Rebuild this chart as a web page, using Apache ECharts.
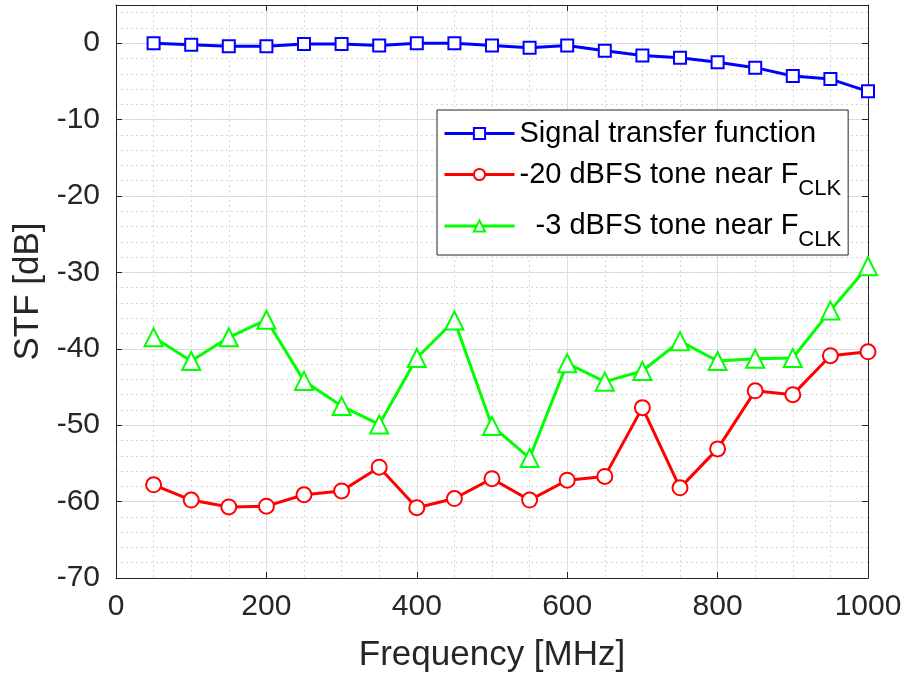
<!DOCTYPE html>
<html>
<head>
<meta charset="utf-8">
<script src="https://cdn.jsdelivr.net/npm/echarts@6/dist/echarts.min.js"></script>
<style>
  html, body { margin: 0; padding: 0; background: #fff; }
  #main { width: 907px; height: 681px; }
</style>
</head>
<body>
<div id="main"></div>
<script>
// frequencies in MHz
var freqs = [50, 100, 150, 200, 250, 300, 350, 400, 450, 500,
             550, 600, 650, 700, 750, 800, 850, 900, 950, 1000];
// signal transfer function
var stf = [0, -0.2, -0.4, -0.4, -0.1, -0.1, -0.3, 0, 0, -0.3,
           -0.6, -0.3, -1.0, -1.6, -1.9, -2.5, -3.2, -4.3, -4.7, -6.3];
// -20 dBFS tone near Fclk
var tone20 = [-57.8, -59.8, -60.7, -60.6, -59.1, -58.6, -55.5, -60.8, -59.6, -57.0,
              -59.8, -57.2, -56.7, -47.7, -58.2, -53.1, -45.5, -46.0, -40.9, -40.4];
// -3 dBFS tone near Fclk
var tone3 = [-38.5, -41.6, -38.5, -36.2, -44.2, -47.5, -49.9, -41.2, -36.3, -50.1,
             -54.3, -41.9, -44.3, -42.9, -39.0, -41.6, -41.3, -41.2, -35.0, -29.2];
var xTicks = [0, 200, 400, 600, 800, 1000];
var yTicks = [-70, -60, -50, -40, -30, -20, -10, 0];

var names = ['Signal transfer function', '-20 dBFS tone near F', '  -3 dBFS tone near F'];

function pairs(ys) {
    return freqs.map(function (f, i) { return [f, ys[i]]; });
}

var font = 'Liberation Sans, Arial, Helvetica, sans-serif';
var axisColor = '#262626';

var chart = echarts.init(document.getElementById('main'));
var option = {
    backgroundColor: '#fff',
    animation: false,
    textStyle: { fontFamily: font },
    grid: { left: 116, right: 39, top: 5, bottom: 103, outerBoundsMode: 'none' },
    legend: {
        orient: 'vertical',
        left: 437,
        top: 110,
        padding: [9, 7, 4, 6],
        itemGap: 12,
        itemWidth: 70,
        itemHeight: 14,
        backgroundColor: '#fff',
        borderColor: axisColor,
        borderWidth: 1,
        borderRadius: 0,
        lineStyle: { width: 3 },
        data: names,
        formatter: function (n) {
            if (n === names[0]) return '{u|' + n + '}';
            return '{t|' + n + '}{s|CLK}';
        },
        textStyle: {
            fontFamily: font,
            color: '#000',
            rich: {
                u: { fontSize: 29, fontFamily: font, color: '#000', padding: [3, 0, 3, 0] },
                t: { fontSize: 29, fontFamily: font, color: '#000' },
                s: { fontSize: 22, fontFamily: font, color: '#000', padding: [28, 0, 0, 0] }
            }
        }
    },
    xAxis: [{
        type: 'value',
        min: 0, max: 1000, interval: 200,
        position: 'bottom',
        name: 'Frequency [MHz]',
        nameLocation: 'middle',
        nameGap: 60,
        nameTextStyle: { fontSize: 35, color: axisColor, fontFamily: font },
        axisLine: { show: true, onZero: false, lineStyle: { color: axisColor, width: 1 } },
        axisTick: { show: true, inside: true, length: 6, lineStyle: { color: axisColor } },
        axisLabel: {
            fontSize: 30, color: axisColor, margin: 14, fontFamily: font,
            formatter: function (v) { return xTicks.indexOf(v) >= 0 ? String(v) : ''; }
        },
        splitLine: { show: true, lineStyle: { color: '#dfdfdf', width: 1 } },
        minorTick: { show: false, splitNumber: 4 },
        minorSplitLine: { show: true, lineStyle: { color: '#d6d6d6', type: [2, 3], width: 1 } }
    }, {
        type: 'value',
        min: 0, max: 1000, interval: 200,
        position: 'top',
        axisLine: { show: true, onZero: false, lineStyle: { color: axisColor, width: 1 } },
        axisTick: { show: true, inside: true, length: 6, lineStyle: { color: axisColor } },
        axisLabel: { show: false },
        splitLine: { show: false }
    }],
    yAxis: [{
        type: 'value',
        min: -70, max: 5, interval: 10,
        position: 'left',
        name: 'STF [dB]',
        nameLocation: 'middle',
        nameGap: 70,
        nameTextStyle: { fontSize: 35, color: axisColor, fontFamily: font },
        axisLine: { show: true, onZero: false, lineStyle: { color: axisColor, width: 1 } },
        axisTick: { show: true, inside: true, length: 6, lineStyle: { color: axisColor } },
        axisLabel: {
            fontSize: 30, color: axisColor, margin: 16, fontFamily: font,
            formatter: function (v) { return yTicks.indexOf(v) >= 0 ? String(v) : ''; }
        },
        splitLine: { show: true, lineStyle: { color: '#dfdfdf', width: 1 } }
    }, {
        type: 'value',
        min: -70, max: 5, interval: 10,
        position: 'right',
        axisLine: { show: true, onZero: false, lineStyle: { color: axisColor, width: 1 } },
        axisTick: { show: true, inside: true, length: 6, lineStyle: { color: axisColor } },
        axisLabel: { show: false },
        splitLine: { show: false }
    }, {
        // minor grid
        type: 'value',
        min: -70, max: 5, interval: 2,
        position: 'left',
        axisLine: { show: false },
        axisTick: { show: false },
        axisLabel: { show: false },
        splitLine: { show: true, lineStyle: { color: '#d6d6d6', type: [2, 3], width: 1 } }
    }],
    series: [{
        name: names[0],
        type: 'line',
        data: pairs(stf),
        symbol: 'emptyRect',
        symbolSize: 12,
        color: '#0000ff',
        lineStyle: { width: 3, color: '#0000ff' },
        itemStyle: { color: '#0000ff', borderWidth: 2.5 },
        z: 5
    }, {
        name: names[1],
        type: 'line',
        data: pairs(tone20),
        symbol: 'emptyCircle',
        symbolSize: 15,
        color: '#ff0000',
        lineStyle: { width: 3, color: '#ff0000' },
        itemStyle: { color: '#ff0000', borderWidth: 2.5 },
        z: 4
    }, {
        name: names[2],
        type: 'line',
        data: pairs(tone3),
        symbol: 'emptyTriangle',
        symbolSize: 18,
        color: '#00ff00',
        lineStyle: { width: 3, color: '#00ff00' },
        itemStyle: { color: '#00ff00', borderWidth: 2.5 },
        z: 3
    }]
};
chart.setOption(option);
</script>
</body>
</html>
